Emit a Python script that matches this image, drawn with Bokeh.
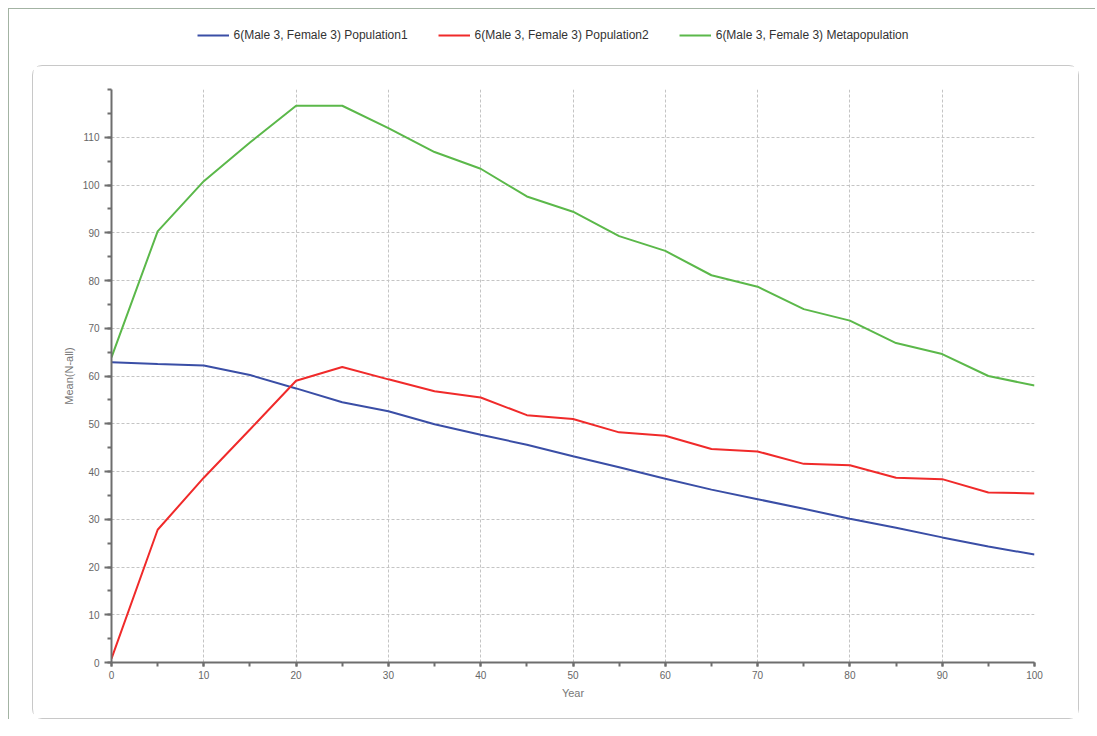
from bokeh.plotting import figure
from bokeh.layouts import column
from bokeh.models import FixedTicker, Legend, LegendItem
from bokeh.embed import file_html
from bokeh.resources import INLINE

years = [0, 5, 10, 15, 20, 25, 30, 35, 40, 45, 50, 55, 60, 65, 70, 75, 80, 85, 90, 95, 100]
population1 = [62.9, 62.5, 62.2, 60.2, 57.4, 54.5, 52.6, 49.9, 47.7, 45.6, 43.2, 40.9, 38.5, 36.2,
               34.2, 32.2, 30.1, 28.2, 26.2, 24.3, 22.6]
population2 = [0.8, 27.8, 38.7, 48.8, 59.0, 61.9, 59.3, 56.8, 55.5, 51.8, 51.0, 48.2, 47.5, 44.7,
               44.2, 41.6, 41.3, 38.7, 38.4, 35.6, 35.4]
metapopulation = [63.9, 90.3, 100.8, 108.9, 116.6, 116.6, 111.9, 106.9, 103.4, 97.6, 94.4, 89.3,
                  86.2, 81.1, 78.7, 74.0, 71.6, 66.9, 64.6, 60.0, 58.0]
series_names = ["6(Male 3, Female 3) Population1",
                "6(Male 3, Female 3) Population2",
                "6(Male 3, Female 3) Metapopulation"]
colors = ["#3a4ea6", "#f02a2a", "#5bb84a"]
x_ticks = list(range(0, 101, 10))
x_minor = list(range(0, 101, 5))
y_ticks = list(range(0, 111, 10))
y_minor = list(range(0, 121, 5))

FONT = "Liberation Sans"
NAN = float("nan")

# ---- legend strip ----
leg = figure(width=1055, height=52, toolbar_location=None, output_backend="svg",
             x_axis_type=None, y_axis_type=None, min_border=0,
             outline_line_color=None, x_range=(0, 1), y_range=(0, 1))
leg.grid.visible = False
items = []
for name, c in zip(series_names, colors):
    r = leg.line(x=[NAN, NAN], y=[NAN, NAN], line_color=c, line_width=2)
    items.append(LegendItem(label=name, renderers=[r]))
lg = Legend(items=items, orientation="horizontal", location="center",
            border_line_color=None, background_fill_alpha=0,
            label_text_font=FONT, label_text_font_size="12px", label_text_color="#333333",
            glyph_width=32, glyph_height=12, label_standoff=5, spacing=30,
            padding=0, margin=0)
leg.add_layout(lg, "center")

# ---- main chart ----
p = figure(width=1047, height=654, toolbar_location=None, output_backend="svg",
           x_range=(0, 100), y_range=(0, 120),
           min_border_left=78, min_border_right=46, min_border_top=23, min_border_bottom=58,
           outline_line_color=None)
p.margin = (4, 16, 0, 23)
p.styles = {"border": "1px solid #c8c8c8", "border-radius": "10px"}

for ys, c in zip([population1, population2, metapopulation], colors):
    p.line(years, ys, line_color=c, line_width=2)

p.xaxis.ticker = FixedTicker(ticks=x_ticks, minor_ticks=x_minor)
p.yaxis.ticker = FixedTicker(ticks=y_ticks, minor_ticks=y_minor)
for ax in (p.xaxis, p.yaxis):
    ax.axis_line_color = "#6e6e6e"
    ax.axis_line_width = 2
    ax.major_tick_line_color = "#6e6e6e"
    ax.minor_tick_line_color = "#6e6e6e"
    ax.major_tick_line_width = 2
    ax.minor_tick_line_width = 2
    ax.major_tick_in = 0
    ax.minor_tick_in = 0
    ax.major_label_text_font = FONT
    ax.major_label_text_font_size = "10px"
    ax.major_label_text_color = "#666666"
    ax.axis_label_text_font = FONT
    ax.axis_label_text_font_size = "11px"
    ax.axis_label_text_color = "#777777"
    ax.axis_label_text_font_style = "normal"
p.yaxis.major_tick_out = 7
p.yaxis.minor_tick_out = 4
p.yaxis.major_label_standoff = 5
p.xaxis.major_tick_out = 4
p.xaxis.minor_tick_out = 4
p.xaxis.major_label_standoff = 4
p.xaxis.axis_label = "Year"
p.yaxis.axis_label = "Mean(N-all)"
p.xaxis.axis_label_standoff = 5
p.yaxis.axis_label_standoff = 5

p.xgrid.ticker = FixedTicker(ticks=x_ticks)
p.ygrid.ticker = FixedTicker(ticks=y_ticks)
for g in (p.xgrid, p.ygrid):
    g.grid_line_color = "#c4c4c4"
    g.grid_line_dash = "3 2"
    g.grid_line_width = 1

layout = column(leg, p, styles={"border-left": "1px solid #a3b3a3",
                                "border-top": "1px solid #a3b3a3"})
layout.margin = (8, 0, 0, 8)

open("out.html", "w").write(file_html(layout, INLINE))
